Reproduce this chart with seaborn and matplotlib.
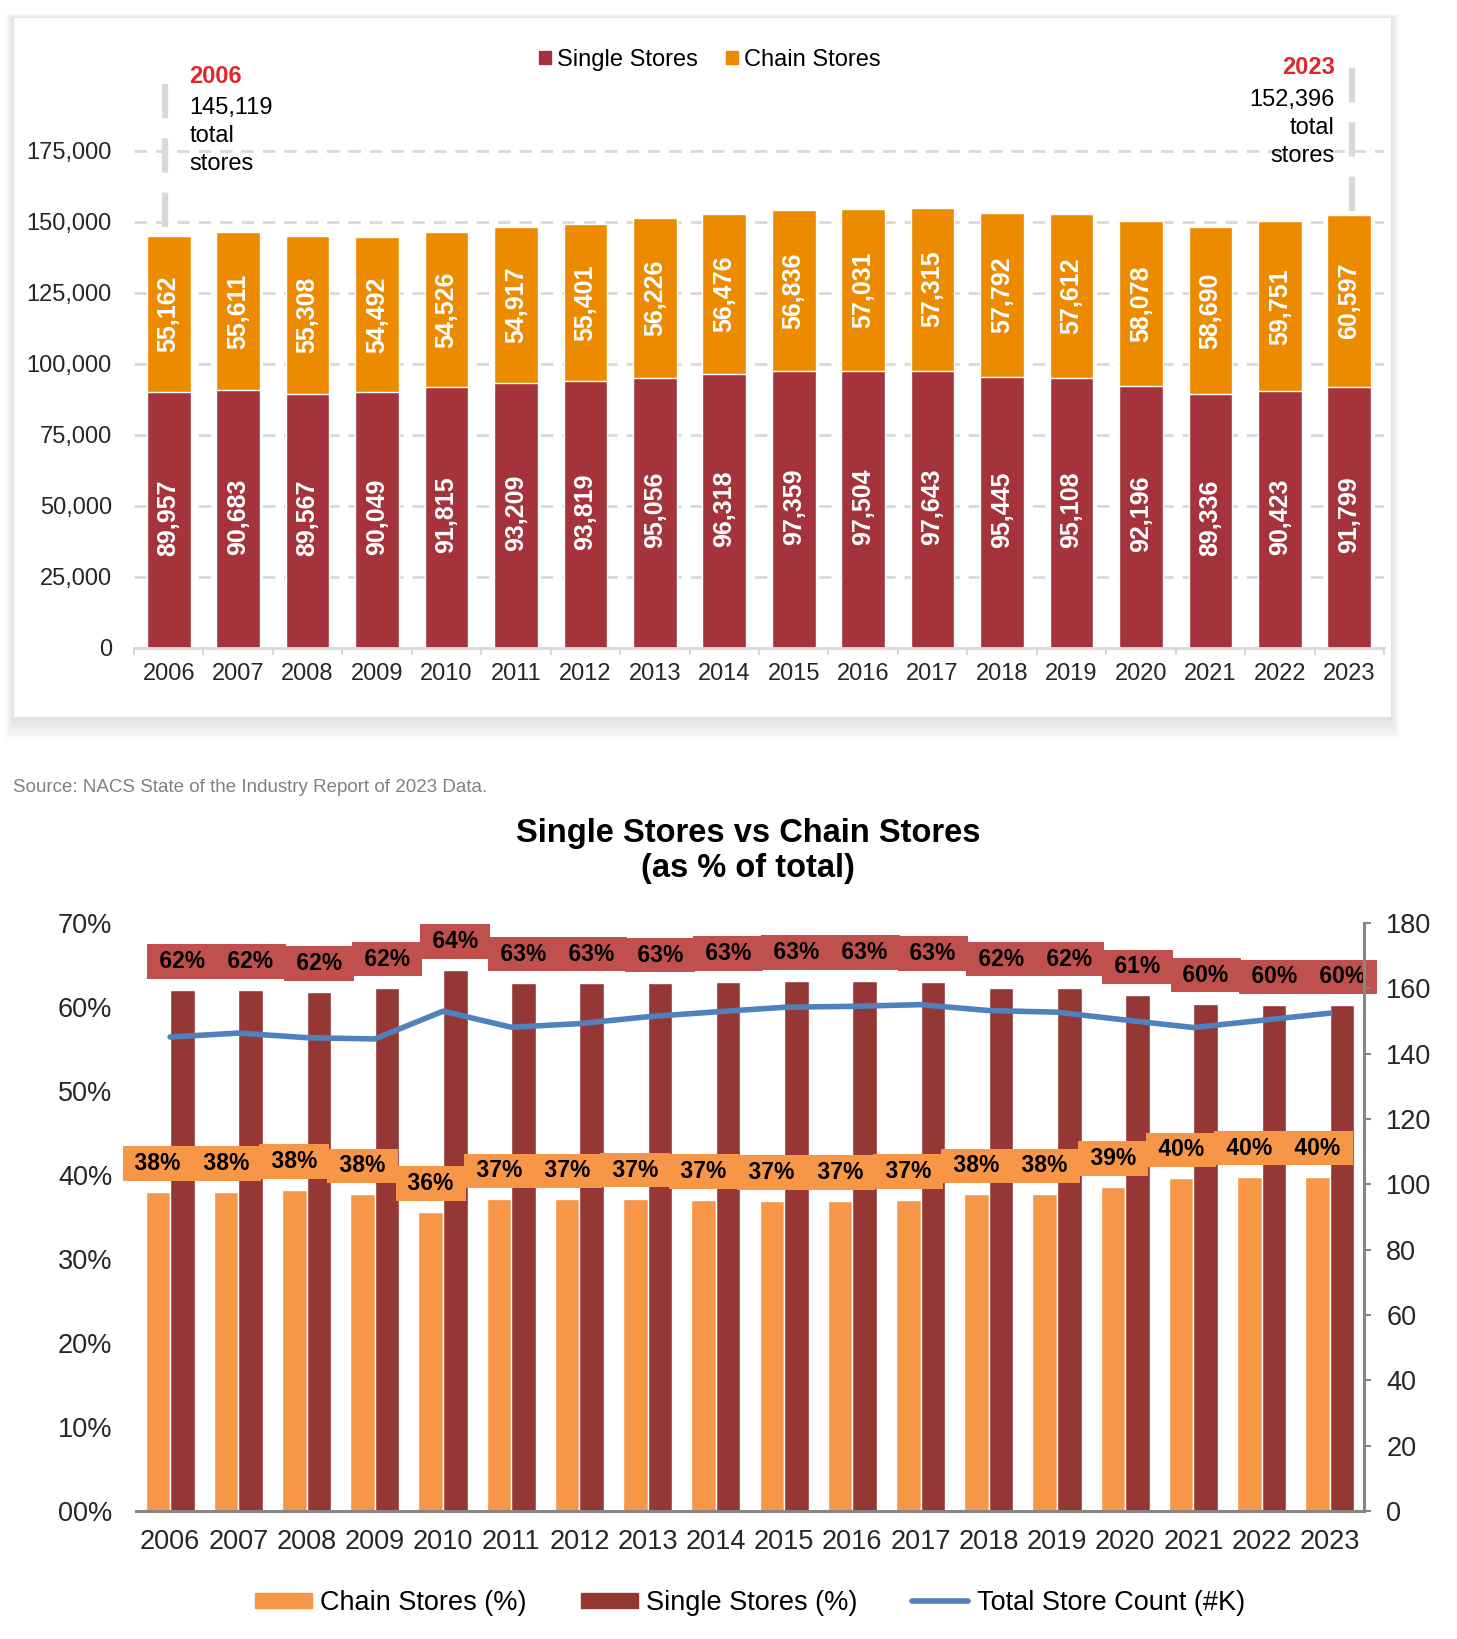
import numpy as np
import pandas as pd
import matplotlib
matplotlib.use("Agg")
import matplotlib.pyplot as plt
import seaborn as sns
from matplotlib.patches import Patch, Rectangle
from matplotlib.lines import Line2D

# ---- data -------------------------------------------------------------
years = [str(y) for y in range(2006, 2024)]
single_stores = [89957, 90683, 89567, 90049, 91815, 93209, 93819, 95056, 96318,
                 97359, 97504, 97643, 95445, 95108, 92196, 89336, 90423, 91799]
chain_stores = [55162, 55611, 55308, 54492, 54526, 54917, 55401, 56226, 56476,
                56836, 57031, 57315, 57792, 57612, 58078, 58690, 59751, 60597]

# lower chart (shares in %, total count in thousands)
single_share = [62.0, 62.0, 61.8, 62.3, 64.4, 62.9, 62.9, 62.8, 63.0,
                63.1, 63.1, 63.0, 62.3, 62.3, 61.4, 60.4, 60.2, 60.2]
chain_share = [38.0, 38.0, 38.2, 37.7, 35.6, 37.1, 37.1, 37.2, 37.0,
               36.9, 36.9, 37.0, 37.7, 37.7, 38.6, 39.6, 39.8, 39.8]
total_count_k = [145.1, 146.3, 144.9, 144.5, 153.0, 148.1, 149.2, 151.3, 152.8,
                 154.2, 154.5, 155.0, 153.2, 152.7, 150.3, 148.0, 150.2, 152.4]

W, H = 1457, 1639
RED_TOP = "#A5333B"
ORANGE_TOP = "#EC8B00"
RED_B = "#953735"
ORANGE_B = "#F79646"
RED_BOX = "#C0504D"
BLUE = "#4F81BD"
GRID = "#D9D9D9"
AXGRAY = "#868686"

sns.set_theme(style="white")
plt.rcParams["font.family"] = ["Liberation Sans", "DejaVu Sans"]
plt.rcParams["text.color"] = "black"


def fx(px):
    return px / W


def fy(py):
    return 1 - py / H


fig = plt.figure(figsize=(W / 100, H / 100), dpi=100)

# card + soft shadow behind the top chart
for d in range(1, 16):
    fig.add_artist(Rectangle((fx(14 - d * 0.6), fy(717 + d * 1.6)),
                             fx(1377 + d * 1.2), (699 + d * 1.9) / H,
                             transform=fig.transFigure, color="black",
                             alpha=0.006, lw=0, zorder=-3))
fig.add_artist(Rectangle((fx(14), fy(717)), fx(1377), 699 / H,
                         transform=fig.transFigure, color="white", lw=0, zorder=-2))

# ---- top: stacked store counts ---------------------------------------
df_top = pd.DataFrame({"year": years, "single": single_stores, "chain": chain_stores})
df_top["total"] = df_top["single"] + df_top["chain"]

ax1 = fig.add_axes([fx(134), fy(648), fx(1384 - 134), (648 - 40) / H])
ax1.patch.set_alpha(0)
sns.barplot(data=df_top, x="year", y="total", color=ORANGE_TOP, width=0.63,
            saturation=1, ax=ax1)
sns.barplot(data=df_top, x="year", y="single", color=RED_TOP, width=0.63,
            saturation=1, ax=ax1)

for i, (s, c) in enumerate(zip(single_stores, chain_stores)):
    ax1.text(i, s + c / 2, f"{c:,}", rotation=90, ha="center", va="center",
             color="white", fontsize=18, fontweight="bold")
    ax1.text(i, s / 2 + 1000, f"{s:,}", rotation=90, ha="center", va="center",
             color="white", fontsize=18, fontweight="bold")

ax1.set_xlim(-0.5, 17.5)
ax1.set_ylim(0, 214000)
ax1.set_yticks(range(0, 175001, 25000))
ax1.set_yticklabels([f"{v:,}" for v in range(0, 175001, 25000)])
ax1.set_axisbelow(True)
ax1.yaxis.grid(True, color=GRID, lw=2, linestyle=(0, (4.5, 3.2)))
ax1.set_xlabel("")
ax1.set_ylabel("")
for side in ["left", "right", "top"]:
    ax1.spines[side].set_visible(False)
ax1.spines["bottom"].set_color(GRID)
ax1.spines["bottom"].set_linewidth(2)
ax1.set_xticks(np.arange(-0.5, 18, 1), minor=True)
ax1.tick_params(axis="x", which="minor", length=5, width=1.5, color=GRID,
                direction="out", bottom=True)
ax1.tick_params(axis="x", which="major", length=0, pad=11, labelsize=17)
ax1.tick_params(axis="y", length=0, pad=16, labelsize=17)

# first / last year call-outs
totals = df_top["total"].tolist()
ax1.plot([-0.05, -0.05], [totals[0] + 3000, 205000], color=GRID, lw=4.5,
         linestyle=(0, (5.5, 3.2)), zorder=1, solid_capstyle="butt")
ax1.plot([17.04, 17.04], [totals[-1] + 1500, 211000], color=GRID, lw=4.5,
         linestyle=(0, (5.5, 3.2)), zorder=1, solid_capstyle="butt")
ax1.text(0.3, 201000, years[0], color="#E0262B", fontsize=17, fontweight="bold",
         ha="left", va="center")
ax1.text(0.3, 180300, f"{totals[0]:,}\ntotal\nstores", fontsize=17,
         ha="left", va="center", linespacing=1.35)
ax1.text(16.79, 204200, years[-1], color="#E0262B", fontsize=17, fontweight="bold",
         ha="right", va="center")
ax1.text(16.79, 182900, f"{totals[-1]:,}\ntotal\nstores", fontsize=17,
         ha="right", va="center", multialignment="right", linespacing=1.35)

fig.legend(handles=[Patch(color=RED_TOP), Patch(color=ORANGE_TOP)],
           labels=["Single Stores", "Chain Stores"], loc="center",
           bbox_to_anchor=(fx(710), fy(60)), ncol=2, frameon=False, fontsize=17,
           handlelength=0.5, handleheight=0.5, handletextpad=0.25,
           columnspacing=1.2)

fig.text(fx(13), fy(787), "Source: NACS State of the Industry Report of 2023 Data.",
         color="#808080", fontsize=13.5, ha="left", va="center")

# ---- bottom: shares + total count -------------------------------------
fig.text(fx(748), fy(851), "Single Stores vs Chain Stores\n(as % of total)",
         fontsize=23.5, fontweight="bold", ha="center", va="center",
         linespacing=1.15)

df_pct = pd.DataFrame({
    "year": years * 2,
    "series": ["Chain Stores (%)"] * len(years) + ["Single Stores (%)"] * len(years),
    "share": chain_share + single_share,
})

ax2 = fig.add_axes([fx(136), fy(1511), fx(1364 - 136), (1511 - 923) / H])
sns.barplot(data=df_pct, x="year", y="share", hue="series",
            palette=[ORANGE_B, RED_B], width=0.72, gap=0, saturation=1,
            legend=False, ax=ax2)
ax2.set_xlim(-0.5, 17.5)
ax2.set_ylim(0, 70)
ax2.set_yticks(range(0, 71, 10))
ax2.set_yticklabels([f"{v:02d}%" for v in range(0, 71, 10)])
ax2.set_xlabel("")
ax2.set_ylabel("")
for side in ["left", "right", "top"]:
    ax2.spines[side].set_visible(False)
ax2.spines["bottom"].set_color(AXGRAY)
ax2.spines["bottom"].set_linewidth(2.2)
ax2.tick_params(axis="x", length=0, pad=13, labelsize=19.5)
ax2.tick_params(axis="y", length=0, pad=17, labelsize=19.5)

for cont, vals, box in [(ax2.containers[0], chain_share, ORANGE_B),
                        (ax2.containers[1], single_share, RED_BOX)]:
    for bar, v in zip(cont, vals):
        ax2.annotate(f" {v:.0f}% ", xy=(bar.get_x() + bar.get_width() / 2, bar.get_height()),
                     xytext=(0, 20.5), textcoords="offset points", ha="center",
                     va="center", fontsize=16.5, fontweight="bold",
                     bbox=dict(boxstyle="square,pad=0.25", fc=box, ec="none"))

ax3 = ax2.twinx()
sns.lineplot(x=np.arange(len(years)), y=total_count_k, color=BLUE, linewidth=4,
             ax=ax3)
ax3.set_ylim(0, 180)
ax3.set_yticks(range(0, 181, 20))
ax3.set_xlim(-0.5, 17.5)
ax3.set_ylabel("")
for side in ["left", "top", "bottom"]:
    ax3.spines[side].set_visible(False)
ax3.spines["right"].set_color(AXGRAY)
ax3.spines["right"].set_linewidth(2.2)
ax3.tick_params(axis="y", right=True, length=5, width=1.5, color=AXGRAY,
                pad=11, labelsize=19.5)

fig.legend(handles=[Patch(color=ORANGE_B), Patch(color=RED_B),
                    Line2D([], [], color=BLUE, lw=4)],
           labels=["Chain Stores (%)", "Single Stores (%)", "Total Store Count (#K)"],
           loc="center", bbox_to_anchor=(fx(750), fy(1603)), ncol=3,
           frameon=False, fontsize=19.5, handlelength=2.1, handleheight=0.52,
           handletextpad=0.3, columnspacing=2.0)

fig.savefig("out.png", dpi=100)
